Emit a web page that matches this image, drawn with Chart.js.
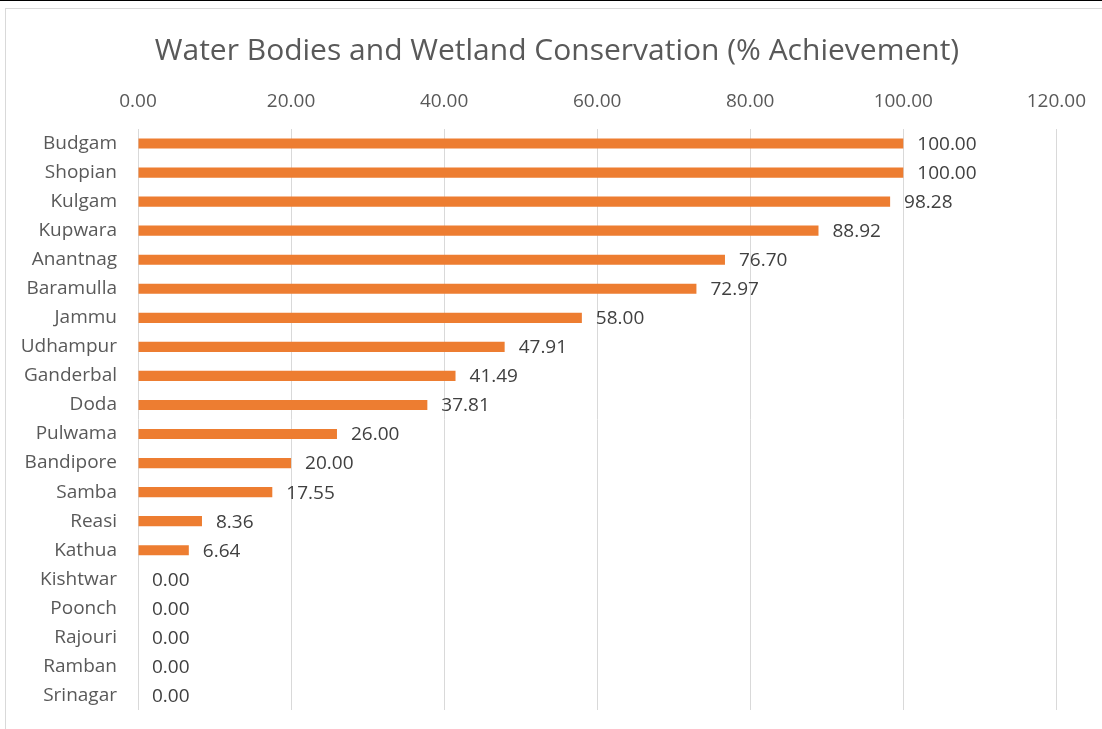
<!DOCTYPE html>
<html>
<head>
<meta charset="utf-8">
<script src="https://cdn.jsdelivr.net/npm/chart.js@4.4.1/dist/chart.umd.min.js"></script>
<style>
  html, body { margin: 0; padding: 0; background: #fff; overflow: hidden; }
  #topline { position: absolute; left: 0; top: 0; width: 1102px; height: 1px; background: #000; }
  #frame { position: absolute; left: 5px; top: 8px; width: 1200px; height: 800px; border: 1px solid #d9d9d9; }
  #wrap { position: absolute; left: 0; top: 0; width: 1102px; height: 729px; }
</style>
</head>
<body>
<div id="topline"></div>
<div id="frame"></div>
<div id="wrap"><canvas id="chart"></canvas></div>
<script>
const districts = ['Budgam', 'Shopian', 'Kulgam', 'Kupwara', 'Anantnag', 'Baramulla', 'Jammu', 'Udhampur',
  'Ganderbal', 'Doda', 'Pulwama', 'Bandipore', 'Samba', 'Reasi', 'Kathua', 'Kishtwar', 'Poonch',
  'Rajouri', 'Ramban', 'Srinagar'];
const achievement = [100.00, 100.00, 98.28, 88.92, 76.70, 72.97, 58.00, 47.91, 41.49, 37.81, 26.00,
  20.00, 17.55, 8.36, 6.64, 0.00, 0.00, 0.00, 0.00, 0.00];
const xMin = 0;
const xMax = 120;
const xStep = 20;
const chartTitle = 'Water Bodies and Wetland Conservation (% Achievement)';

const FONT = '"Open Sans", Lato, sans-serif';

// title centred on the whole frame, not on the plot
const frameTitle = {
  id: 'frameTitle',
  afterDraw(chart) {
    const ctx = chart.ctx;
    ctx.save();
    ctx.font = '30px ' + FONT;
    ctx.fillStyle = '#595959';
    ctx.textAlign = 'center';
    ctx.textBaseline = 'middle';
    ctx.fillText(chartTitle, 557, 51);
    ctx.restore();
  }
};

// value labels to the right of every bar
const barLabels = {
  id: 'barLabels',
  afterDatasetsDraw(chart) {
    const ctx = chart.ctx;
    const meta = chart.getDatasetMeta(0);
    ctx.save();
    ctx.font = '19px ' + FONT;
    ctx.fillStyle = '#404040';
    ctx.textAlign = 'left';
    ctx.textBaseline = 'middle';
    meta.data.forEach((bar, i) => {
      ctx.fillText(achievement[i].toFixed(2), bar.x + 14, bar.y + 1);
    });
    ctx.restore();
  }
};

new Chart(document.getElementById('chart'), {
  type: 'bar',
  data: {
    labels: districts,
    datasets: [{
      data: achievement,
      backgroundColor: '#ED7D31',
      barPercentage: 0.35,
      categoryPercentage: 1
    }]
  },
  options: {
    indexAxis: 'y',
    responsive: true,
    maintainAspectRatio: false,
    animation: false,
    layout: { padding: { left: 0, right: 45, top: 72, bottom: 19 } },
    plugins: {
      legend: { display: false },
      tooltip: { enabled: false },
      title: { display: false }
    },
    scales: {
      x: {
        position: 'top',
        min: xMin,
        max: xMax,
        ticks: {
          stepSize: xStep,
          color: '#595959',
          font: { family: FONT, size: 19 },
          padding: 16,
          callback: v => v.toFixed(2)
        },
        grid: { color: '#d9d9d9', drawTicks: false },
        border: { display: false },
        afterFit(scale) { scale.height = 57; }
      },
      y: {
        ticks: {
          color: '#595959',
          font: { family: FONT, size: 19 },
          padding: 13
        },
        grid: { display: false },
        border: { display: false },
        afterFit(scale) {
          scale.width = 138;
          scale.paddingTop = 0;
          scale.paddingBottom = 0;
        }
      }
    }
  },
  plugins: [barLabels, frameTitle]
});
</script>
</body>
</html>
